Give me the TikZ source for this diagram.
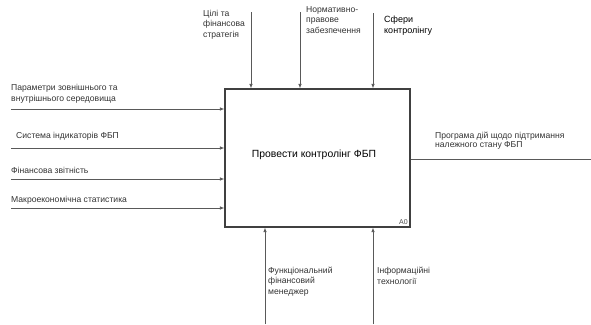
\documentclass[tikz,border=0pt]{standalone}
\usepackage{fontspec}
\setmainfont{Liberation Sans}
\usetikzlibrary{arrows.meta}
\tikzset{
  lbl/.style={anchor=base west, inner sep=0pt, align=left, text=black!80,
    font=\fontsize{8.6}{10.4}\selectfont},
  conn/.style={draw=black!65, line width=0.8pt},
  arr/.style={conn, -{Latex[length=4.5pt,width=3.5pt]}},
  fn/.style={draw=black!75, line width=1.2pt, minimum width=185pt, minimum height=138pt,
    inner sep=0pt},
}
\begin{document}
\begin{tikzpicture}[x=1pt,y=-1pt]
\useasboundingbox (0,0) rectangle (591,324);
\node[fn] (box) at (317.5,158) {};
\node[anchor=base, inner sep=0pt, font=\fontsize{10.4}{12}\selectfont] (boxt) at (314,157.5) {Провести контролінг ФБП};
\node[anchor=base east, inner sep=0pt, text=black!70, font=\fontsize{7}{8}\selectfont] (a0) at (408,224) {А0};
% top controls
\coordinate (c1) at (251,12);
\coordinate (c2) at (300,12);
\coordinate (c3) at (373,13);
\draw[arr] (c1) -- (c1 |- box.north);
\draw[arr] (c2) -- (c2 |- box.north);
\draw[arr] (c3) -- (c3 |- box.north);
\node[lbl] (t1) at (203,37) {Цілі та\\фінансова\\стратегія};
\node[lbl] (t2) at (306,33) {Нормативно-\\правове\\забезпечення};
\node[lbl, text=black, font=\fontsize{9}{11.3}\selectfont] (t3) at (384,33.8) {Сфери\\контролінгу};
% inputs
\coordinate (i1) at (11,109);
\coordinate (i2) at (11,148);
\coordinate (i3) at (11,179);
\coordinate (i4) at (11,208);
\draw[arr] (i1) -- (i1 -| box.west);
\draw[arr] (i2) -- (i2 -| box.west);
\draw[arr] (i3) -- (i3 -| box.west);
\draw[arr] (i4) -- (i4 -| box.west);
\node[lbl] (l1) at (11,101) {Параметри зовнішнього та\\внутрішнього середовища};
\node[lbl] (l2) at (16,138) {Система індикаторів ФБП};
\node[lbl] (l3) at (11,173) {Фінансова звітність};
\node[lbl] (l4) at (11,202) {Макроекономічна статистика};
% output
\coordinate (o1) at (591,159);
\draw[conn] (o1 -| box.east) -- (o1);
\node[lbl, font=\fontsize{8.6}{8.9}\selectfont] (ol) at (435,147) {Програма дій щодо підтримання\\належного стану ФБП};
% mechanisms
\coordinate (m1) at (265,324);
\coordinate (m2) at (373,324);
\draw[arr] (m1) -- (m1 |- box.south);
\draw[arr] (m2) -- (m2 |- box.south);
\node[lbl] (b1) at (268,294) {Функціональний\\фінансовий\\менеджер};
\node[lbl] (b2) at (377,284) {Інформаційні\\технології};
\end{tikzpicture}
\end{document}
